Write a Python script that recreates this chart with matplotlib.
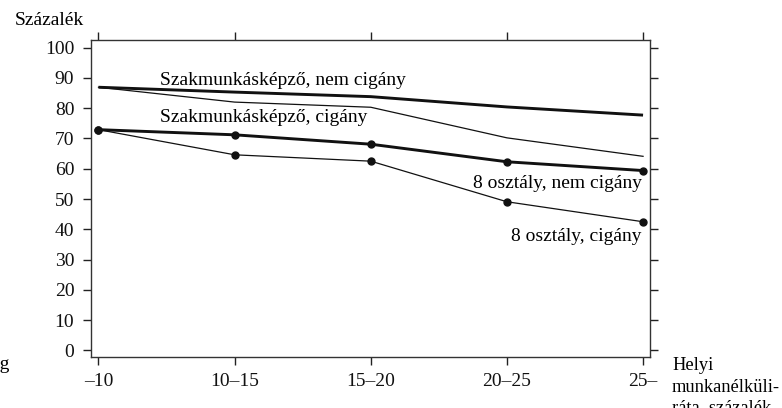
import matplotlib
matplotlib.use("Agg")
import matplotlib.pyplot as plt

categories = ["–10", "10–15", "15–20", "20–25", "25–"]
szak_nem_cigany = [86.9, 85.3, 83.8, 80.4, 77.7]
szak_cigany = [86.9, 82.0, 80.3, 70.2, 64.1]
osztaly8_nem_cigany = [72.9, 71.2, 68.1, 62.3, 59.4]
osztaly8_cigany = [72.9, 64.6, 62.5, 49.1, 42.5]
y_ticks = [0, 10, 20, 30, 40, 50, 60, 70, 80, 90, 100]

plt.rcParams['font.family'] = ['Liberation Serif', 'DejaVu Serif']
FS = 14

W, H = 782, 408
fig = plt.figure(figsize=(W/100, H/100), dpi=100)
ax = fig.add_axes([91/W, 1-357/H, (650-91)/W, (357-40)/H])

x = list(range(len(categories)))
ax.plot(x, szak_nem_cigany, color='#111111', lw=2.1, solid_capstyle='butt')
ax.plot(x, szak_cigany, color='#111111', lw=0.9)
ax.plot(x, osztaly8_nem_cigany, color='#111111', lw=2.1, marker='o', ms=5)
ax.plot(x, osztaly8_cigany, color='#111111', lw=0.9, marker='o', ms=5)

ax.set_xlim(-0.055, 4.051)
ax.set_ylim(-2.15, 102.5)
ax.set_xticks(x)
ax.set_xticklabels(categories, fontsize=FS)
ax.set_yticks(y_ticks)
ax.set_yticklabels([str(v) for v in y_ticks], fontsize=FS)
ax.tick_params(direction='out', length=5.5, width=1, colors='#222222',
               top=True, right=True, labeltop=False, labelright=False,
               labelcolor='#111111')
ax.tick_params(axis='x', pad=6)
ax.tick_params(axis='y', pad=6.5)
for s in ax.spines.values():
    s.set_linewidth(1)
    s.set_color('#333333')

ax.text(0.45, 87.6, "Szakmunkásképző, nem cigány", fontsize=FS, ha='left', va='baseline')
ax.text(0.45, 75.4, "Szakmunkásképző, cigány", fontsize=FS, ha='left', va='baseline')
ax.text(3.99, 53.7, "8 osztály, nem cigány", fontsize=FS, ha='right', va='baseline')
ax.text(3.99, 36.1, "8 osztály, cigány", fontsize=FS, ha='right', va='baseline')

fig.text(15/W, 1-25/H, "Százalék", fontsize=FS, ha='left', va='baseline')
for line, yb in zip(["Helyi", "munkanélküli-", "ráta, százalék"], [370, 392, 412]):
    fig.text(672/W, 1-yb/H, line, fontsize=13.3, ha='left', va='baseline')
fig.text(10/W, 1-369/H, "ég", fontsize=FS, ha='right', va='baseline')

fig.savefig("out.png", dpi=100)
